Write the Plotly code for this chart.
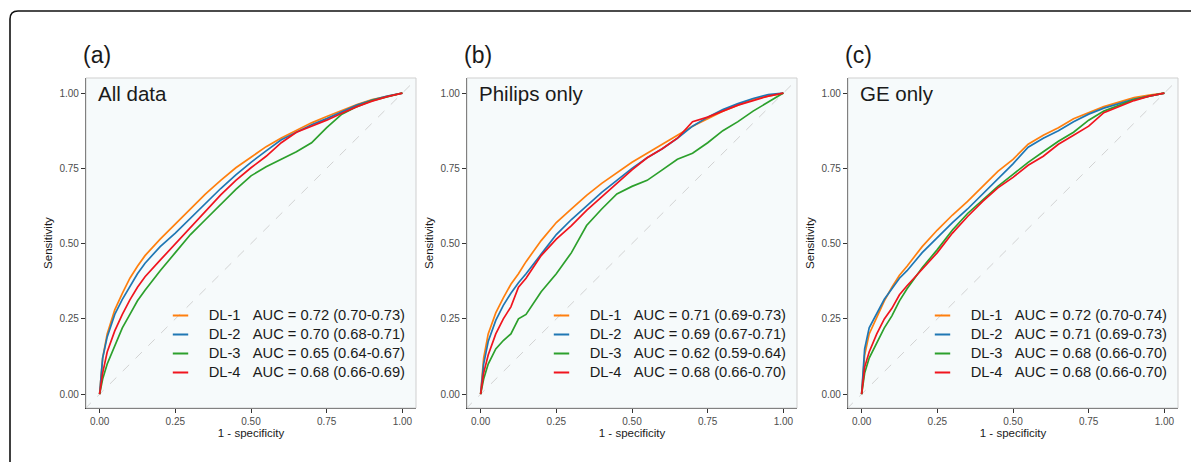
import plotly.graph_objects as go

# false positive rate grid shared by every curve
fpr = [0, 0.01, 0.025, 0.05, 0.075, 0.1, 0.125, 0.15, 0.2, 0.25, 0.3, 0.35, 0.4,
       0.45, 0.5, 0.55, 0.6, 0.65, 0.7, 0.75, 0.8, 0.85, 0.9, 0.95, 1.0]
diag = [-0.05, 1.05]

model_names = ["DL-1", "DL-2", "DL-3", "DL-4"]
model_colors = ["#FF7F0E", "#1F77B4", "#2CA02C", "#F0141E"]

panel_tags = ["(a)", "(b)", "(c)"]
panel_titles = ["All data", "Philips only", "GE only"]

auc_all = ["0.72 (0.70-0.73)", "0.70 (0.68-0.71)", "0.65 (0.64-0.67)", "0.68 (0.66-0.69)"]
auc_philips = ["0.71 (0.69-0.73)", "0.69 (0.67-0.71)", "0.62 (0.59-0.64)", "0.68 (0.66-0.70)"]
auc_ge = ["0.72 (0.70-0.74)", "0.71 (0.69-0.73)", "0.68 (0.66-0.70)", "0.68 (0.66-0.70)"]

# sensitivity values, panel (a) all data
tpr_all_dl1 = [0, 0.12, 0.2, 0.28, 0.335, 0.385, 0.425, 0.46, 0.515, 0.565, 0.615, 0.665, 0.71,
               0.752, 0.787, 0.822, 0.851, 0.877, 0.901, 0.922, 0.942, 0.962, 0.978, 0.99, 1]
tpr_all_dl2 = [0, 0.12, 0.19, 0.265, 0.315, 0.36, 0.4, 0.435, 0.49, 0.535, 0.585, 0.635, 0.683,
               0.728, 0.77, 0.808, 0.845, 0.87, 0.895, 0.915, 0.938, 0.96, 0.977, 0.99, 1]
tpr_all_dl3 = [0, 0.05, 0.1, 0.16, 0.22, 0.265, 0.31, 0.345, 0.41, 0.47, 0.53, 0.58, 0.63,
               0.68, 0.725, 0.755, 0.78, 0.805, 0.835, 0.885, 0.93, 0.955, 0.975, 0.988, 1]
tpr_all_dl4 = [0, 0.07, 0.14, 0.21, 0.265, 0.313, 0.355, 0.39, 0.445, 0.5, 0.555, 0.61, 0.662,
               0.71, 0.752, 0.79, 0.835, 0.87, 0.89, 0.91, 0.933, 0.955, 0.973, 0.988, 1]

# panel (b) Philips only
tpr_philips_dl1 = [0, 0.12, 0.2, 0.27, 0.32, 0.365, 0.4, 0.44, 0.51, 0.57, 0.615, 0.66, 0.7,
                   0.735, 0.77, 0.8, 0.83, 0.86, 0.89, 0.915, 0.94, 0.96, 0.98, 0.99, 1]
tpr_philips_dl2 = [0, 0.1, 0.175, 0.245, 0.295, 0.335, 0.37, 0.4, 0.465, 0.53, 0.58, 0.625, 0.67,
                   0.71, 0.75, 0.785, 0.815, 0.85, 0.89, 0.92, 0.945, 0.965, 0.982, 0.995, 1]
tpr_philips_dl3 = [0, 0.05, 0.1, 0.15, 0.178, 0.2, 0.25, 0.265, 0.34, 0.4, 0.47, 0.56, 0.615,
                   0.665, 0.69, 0.71, 0.745, 0.78, 0.8, 0.835, 0.875, 0.905, 0.94, 0.97, 1]
tpr_philips_dl4 = [0, 0.07, 0.13, 0.2, 0.25, 0.29, 0.355, 0.385, 0.46, 0.515, 0.56, 0.61, 0.655,
                   0.7, 0.745, 0.785, 0.815, 0.85, 0.905, 0.92, 0.94, 0.96, 0.975, 0.99, 1]

# panel (c) GE only
tpr_ge_dl1 = [0, 0.13, 0.2, 0.255, 0.31, 0.355, 0.395, 0.425, 0.49, 0.545, 0.595, 0.64, 0.69,
              0.74, 0.78, 0.83, 0.86, 0.885, 0.915, 0.935, 0.955, 0.97, 0.985, 0.993, 1]
tpr_ge_dl2 = [0, 0.15, 0.22, 0.27, 0.315, 0.35, 0.385, 0.41, 0.47, 0.52, 0.57, 0.615, 0.665,
              0.715, 0.765, 0.82, 0.85, 0.875, 0.905, 0.93, 0.95, 0.965, 0.98, 0.99, 1]
tpr_ge_dl3 = [0, 0.07, 0.12, 0.17, 0.22, 0.26, 0.31, 0.35, 0.42, 0.48, 0.545, 0.6, 0.645,
              0.69, 0.73, 0.77, 0.805, 0.84, 0.87, 0.91, 0.94, 0.96, 0.978, 0.99, 1]
tpr_ge_dl4 = [0, 0.09, 0.14, 0.2, 0.25, 0.285, 0.33, 0.36, 0.415, 0.47, 0.535, 0.59, 0.64,
              0.685, 0.72, 0.76, 0.79, 0.83, 0.86, 0.89, 0.935, 0.955, 0.975, 0.99, 1]

panels = [
    ([tpr_all_dl1, tpr_all_dl2, tpr_all_dl3, tpr_all_dl4], auc_all),
    ([tpr_philips_dl1, tpr_philips_dl2, tpr_philips_dl3, tpr_philips_dl4], auc_philips),
    ([tpr_ge_dl1, tpr_ge_dl2, tpr_ge_dl3, tpr_ge_dl4], auc_ge),
]

W, H = 1199, 462
OFF = 8  # the page body adds an 8px margin, so layout positions are shifted back by it
FONT = "Liberation Sans, Arial, Helvetica, sans-serif"
panel_left_px = [86, 467, 848]  # screen positions of each plot area
panel_w_px = 330
plot_top_px, plot_bottom_px = 78, 408


def px_x(p):
    return (p - OFF) / W


def px_y(p):
    return 1 - (p - OFF) / H


fig = go.Figure()
layout = {}
shapes = []
annotations = []

for i, (curves, aucs) in enumerate(panels):
    n = "" if i == 0 else str(i + 1)
    xa, ya = "x" + n, "y" + n
    legend_id = "legend" + n

    # reference diagonal
    fig.add_trace(go.Scatter(
        x=diag, y=diag, xaxis=xa, yaxis=ya, mode="lines", showlegend=False,
        line=dict(color="#C8C8C8", width=0.8, dash="dash"), hoverinfo="skip",
    ))

    for tpr, name, color in zip(curves, model_names, model_colors):
        fig.add_trace(go.Scatter(
            x=fpr, y=tpr, xaxis=xa, yaxis=ya, mode="lines", showlegend=False,
            line=dict(color=color, width=1.7), name=name,
        ))

    # legend keys: short line samples like the ggplot legend
    for name, color, auc in zip(model_names, model_colors, aucs):
        label = "\u00a0\u00a0" + name + "\u00a0\u00a0\u00a0AUC = " + auc
        fig.add_trace(go.Scatter(
            x=[None], y=[None], xaxis=xa, yaxis=ya, mode="markers",
            marker=dict(symbol="line-ew", size=11, color=color, line=dict(width=2, color=color)),
            name="<span style='font-size:14.7px'>" + label + "</span>",
            legend=legend_id,
        ))

    left = panel_left_px[i]

    axis_common = dict(
        tickvals=[0, 0.25, 0.5, 0.75, 1], tickformat=".2f",
        ticks="outside", ticklen=4, tickwidth=1, tickcolor="#333333",
        tickfont=dict(size=10, color="#4D4D4D", family=FONT),
        showline=True, linecolor="#333333", linewidth=1.3,
        showgrid=False, zeroline=False,
    )
    layout["xaxis" + n] = dict(
        axis_common, range=[-0.045, 1.045],
        domain=[px_x(left), px_x(left + panel_w_px)], anchor=ya,
        title=dict(text="1 - specificity", font=dict(size=11.5, color="#1A1A1A", family=FONT), standoff=2),
    )
    layout["yaxis" + n] = dict(
        axis_common, range=[-0.046, 1.05],
        domain=[px_y(plot_bottom_px), px_y(plot_top_px)], anchor=xa,
        title=dict(text="Sensitivity", font=dict(size=11.5, color="#1A1A1A", family=FONT), standoff=4),
    )
    layout[legend_id] = dict(
        x=px_x(left + 92.5 - 18), y=px_y(301), xanchor="left", yanchor="top",
        bgcolor="rgba(0,0,0,0)", borderwidth=0, tracegroupgap=0,
        font=dict(size=12.1, color="#1A1A1A", family=FONT),
        itemwidth=30,
    )

    # light grey panel border (top/right visible, axis lines drawn over left/bottom)
    shapes.append(dict(
        type="rect", xref=xa + " domain", yref=ya + " domain", x0=0, x1=1, y0=0, y1=1,
        line=dict(color="#CFCFCF", width=1), layer="above",
    ))

    annotations.append(dict(
        text=panel_titles[i], xref=xa + " domain", yref=ya + " domain",
        x=0.031, y=0.993, xanchor="left", yanchor="top", showarrow=False,
        font=dict(size=20.5, color="#1A1A1A", family=FONT),
    ))
    annotations.append(dict(
        text=panel_tags[i], xref="paper", yref="paper",
        x=px_x(left - 5), y=px_y(40), xanchor="left", yanchor="top", showarrow=False,
        font=dict(size=23, color="#1A1A1A", family=FONT),
    ))

# outer figure frame with rounded top-left corner
fx, fy, r = px_x(10), px_y(11), 8
shapes.append(dict(
    type="path", xref="paper", yref="paper",
    path=(f"M {fx},-0.1 L {fx},{fy - r / H} Q {fx},{fy} {fx + r / W},{fy} L 1.1,{fy}"),
    line=dict(color="#111111", width=1.6),
))

fig.update_layout(
    width=W, height=H, margin=dict(l=0, r=0, t=0, b=0),
    paper_bgcolor="white", plot_bgcolor="#F6FAFB",
    font=dict(family=FONT),
    shapes=shapes, annotations=annotations,
    **layout,
)

fig.write_html("out.html")
